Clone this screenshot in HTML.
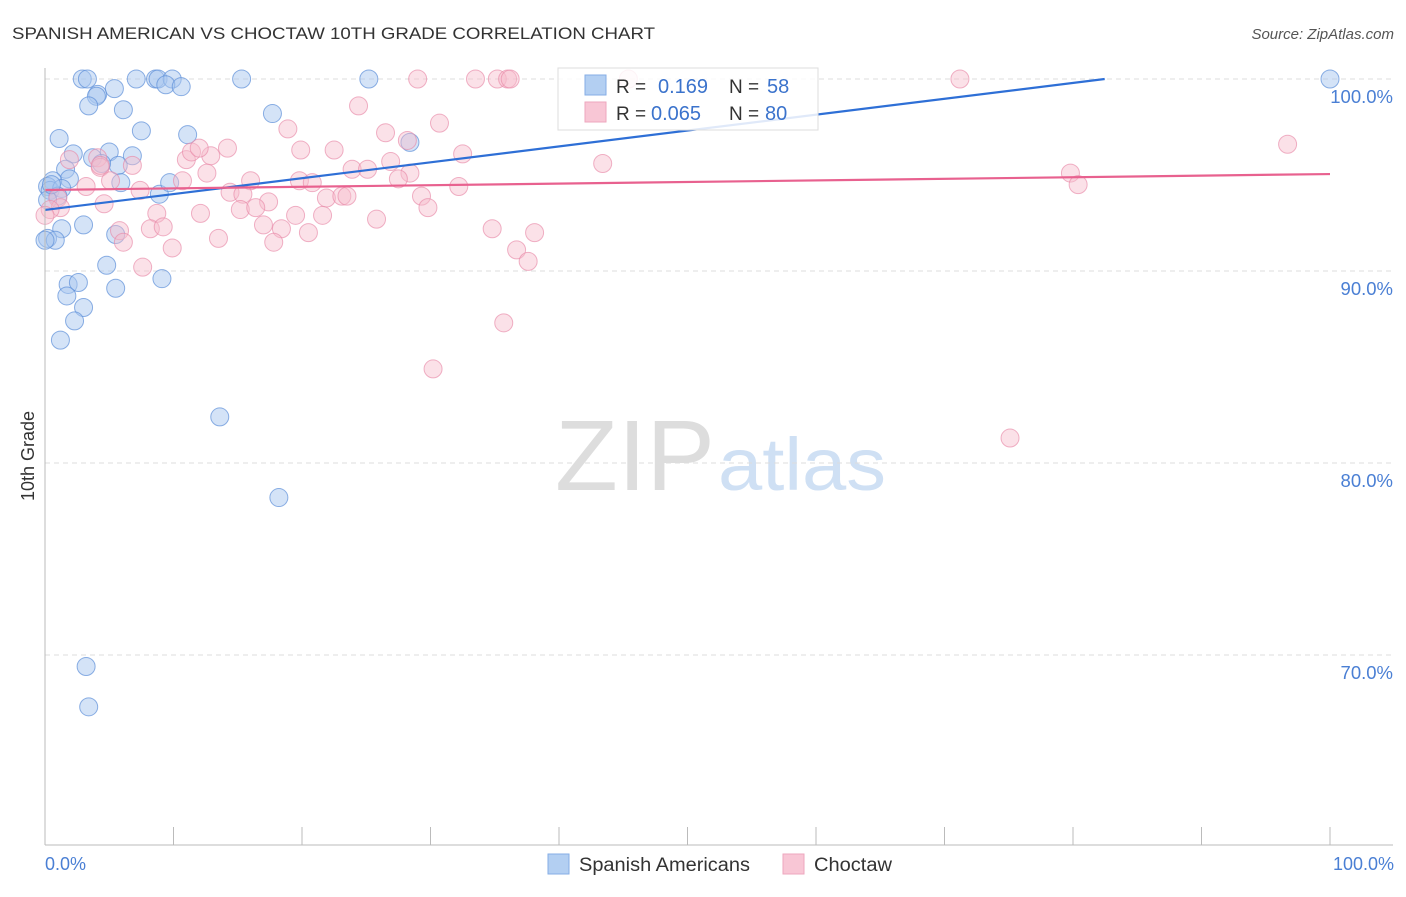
<!DOCTYPE html>
<html><head><meta charset="utf-8"><style>
body{margin:0;background:#fff;font-family:"Liberation Sans",sans-serif;}
svg text{font-family:"Liberation Sans",sans-serif;}
</style></head><body>
<svg id="chart" width="1406" height="892" xmlns="http://www.w3.org/2000/svg">
<text x="12" y="39" font-size="17" fill="#333" textLength="643" lengthAdjust="spacingAndGlyphs">SPANISH AMERICAN VS CHOCTAW 10TH GRADE CORRELATION CHART</text>
<text x="1394" y="39" font-size="15" fill="#555" text-anchor="end" font-style="italic">Source: ZipAtlas.com</text>
<text x="555" y="490" font-size="100" fill="#ddd" font-family="Liberation Serif,serif" textLength="160" lengthAdjust="spacingAndGlyphs">ZIP</text>
<text x="718" y="490" font-size="74" fill="#cfe0f4" textLength="168" lengthAdjust="spacingAndGlyphs">atlas</text>
<g id="grid"></g>
<g id="pts"></g>
<g id="lines"></g>
<line x1="45" y1="68" x2="45" y2="845" stroke="#bbb"/>
<line x1="45" y1="845" x2="1393" y2="845" stroke="#bbb"/>
<text transform="translate(34,456) rotate(-90)" font-size="18" fill="#333" text-anchor="middle">10th Grade</text>
<text x="45" y="870" font-size="18" fill="#4a7fd4">0.0%</text>
<text x="1394" y="870" font-size="18" fill="#4a7fd4" text-anchor="end">100.0%</text>
<g>
<rect x="558" y="68" width="260" height="62" fill="#fff" fill-opacity="0.85" stroke="#ddd"/>
<rect x="585" y="75" width="21" height="20" fill="#b3cff2" stroke="#86aee6"/>
<rect x="585" y="102" width="21" height="20" fill="#f8c6d5" stroke="#eea7be"/>
<text x="616" y="93" font-size="19" fill="#333">R = </text><text x="658" y="93" font-size="20" fill="#3b73cc">0.169</text>
<text x="729" y="93" font-size="19" fill="#333">N = </text><text x="767" y="93" font-size="20" fill="#3b73cc">58</text>
<text x="616" y="120" font-size="19" fill="#333">R = </text><text x="651" y="120" font-size="20" fill="#3b73cc">0.065</text>
<text x="729" y="120" font-size="19" fill="#333">N = </text><text x="765" y="120" font-size="20" fill="#3b73cc">80</text>
</g>
<g>
<rect x="548" y="854" width="21" height="20" fill="#b3cff2" stroke="#86aee6"/>
<text x="579" y="871" font-size="19" fill="#333" textLength="171" lengthAdjust="spacingAndGlyphs">Spanish Americans</text></g>
<g>
<rect x="783" y="854" width="21" height="20" fill="#f8c6d5" stroke="#eea7be"/>
<text x="814" y="871" font-size="19" fill="#333" textLength="78" lengthAdjust="spacingAndGlyphs">Choctaw</text></g>
</svg>
<script>
const yTicks=[100,90,80,70];
const yTickLabels=["100.0%","90.0%","80.0%","70.0%"];
const xTicks=[0,10,20,30,40,50,60,70,80,90,100];
const blueX=[2.9,3.3,7.1,8.6,8.8,9.9,15.3,25.2,100,9.4,10.6,4.1,5.4,4.0,3.4,6.1,17.7,7.5,11.1,1.1,28.4,2.2,3.7,5.0,6.8,5.7,1.6,4.4,1.9,0.6,0.2,0.4,1.3,1.0,8.9,9.7,5.9,3.0,1.3,5.5,0.2,0.8,4.8,9.1,5.5,1.8,2.6,1.7,3.0,2.3,1.2,13.6,18.2,3.2,3.4,0.2,0.5,0];
const blueY=[100,100,100,100,100,100,100,100,100,99.7,99.6,99.2,99.5,99.1,98.6,98.4,98.2,97.3,97.1,96.9,96.7,96.1,95.9,96.2,96.0,95.5,95.3,95.6,94.8,94.7,94.4,94.2,94.3,93.9,94.0,94.6,94.6,92.4,92.2,91.9,91.7,91.6,90.3,89.6,89.1,89.3,89.4,88.7,88.1,87.4,86.4,82.4,78.2,69.4,67.3,93.7,94.5,91.6];
const pinkX=[29.0,33.5,35.2,36.0,36.2,45.4,71.2,24.4,18.9,26.5,30.7,22.5,28.2,96.7,43.4,32.5,14.2,12.9,11.0,11.4,1.9,4.1,6.8,4.3,23.9,26.9,28.4,25.1,10.7,12.6,19.8,20.8,16.0,79.8,80.4,32.2,27.5,7.4,3.2,5.1,14.4,15.4,21.9,23.1,23.5,17.4,29.3,29.8,1.0,4.6,8.7,12.1,15.2,16.4,19.5,21.6,25.8,1.2,0.4,5.8,8.2,9.2,13.5,17.0,18.4,20.5,17.8,6.1,9.9,34.8,38.1,36.7,37.6,7.6,35.7,30.2,75.1,0,4.3,12.0,19.9];
const pinkY=[100,100,100,100,100,100,100,98.6,97.4,97.2,97.7,96.3,96.8,96.6,95.6,96.1,96.4,96.0,95.8,96.2,95.8,95.9,95.5,95.4,95.3,95.7,95.1,95.3,94.7,95.1,94.7,94.6,94.7,95.1,94.5,94.4,94.8,94.2,94.4,94.7,94.1,94.0,93.8,93.9,93.9,93.6,93.9,93.3,93.8,93.5,93.0,93.0,93.2,93.3,92.9,92.9,92.7,93.3,93.2,92.1,92.2,92.3,91.7,92.4,92.2,92.0,91.5,91.5,91.2,92.2,92.0,91.1,90.5,90.2,87.3,84.9,81.3,92.9,95.5,96.4,96.3];
const blueLine=[93.18,0.0827];
const pinkLine=[94.22,0.0083];
const X=v=>45+v*12.85, Y=v=>79+(100-v)*19.2;
const NS="http://www.w3.org/2000/svg";
const mk=(t,a,p)=>{const e=document.createElementNS(NS,t);for(const k in a)e.setAttribute(k,a[k]);p.appendChild(e);return e;};
const grid=document.getElementById('grid');
yTicks.forEach((t,i)=>{
 const l=mk('line',{x1:45,x2:1393,y1:Y(t),y2:Y(t),stroke:'#ddd','stroke-dasharray':'5,4'},grid);
 
 
 const tx=mk('text',{x:1393,y:Y(t)+24,'font-size':18.5,fill:'#4a7fd4','text-anchor':'end'},grid);
 tx.textContent=yTickLabels[i];
 
 
});
xTicks.forEach(t=>{
 const l=mk('line',{x1:X(t),x2:X(t),y1:827,y2:845,stroke:'#bbb'},grid);
 
 
});
const pts=document.getElementById('pts');
blueX.forEach((v,i)=>{
 const c=mk('circle',{cx:X(v),cy:Y(blueY[i]),r:9,fill:'#a9c8ef','fill-opacity':0.5,stroke:'#5d8fd8','stroke-opacity':0.7,'stroke-width':1},pts);
 
 
});
pinkX.forEach((v,i)=>{
 const c=mk('circle',{cx:X(v),cy:Y(pinkY[i]),r:9,fill:'#f6bccd','fill-opacity':0.45,stroke:'#e889a8','stroke-opacity':0.65,'stroke-width':1},pts);
 
 
});
const lines=document.getElementById('lines');
const bx2=Math.min(100,(100-blueLine[0])/blueLine[1]);
const bl=mk('line',{x1:X(0),y1:Y(blueLine[0]),x2:X(bx2),y2:Y(blueLine[0]+blueLine[1]*bx2),stroke:'#2e6fd6','stroke-width':2.2},lines);


const pl=mk('line',{x1:X(0),y1:Y(pinkLine[0]),x2:X(100),y2:Y(pinkLine[0]+pinkLine[1]*100),stroke:'#e8618f','stroke-width':2.2},lines);


</script>
</body></html>
